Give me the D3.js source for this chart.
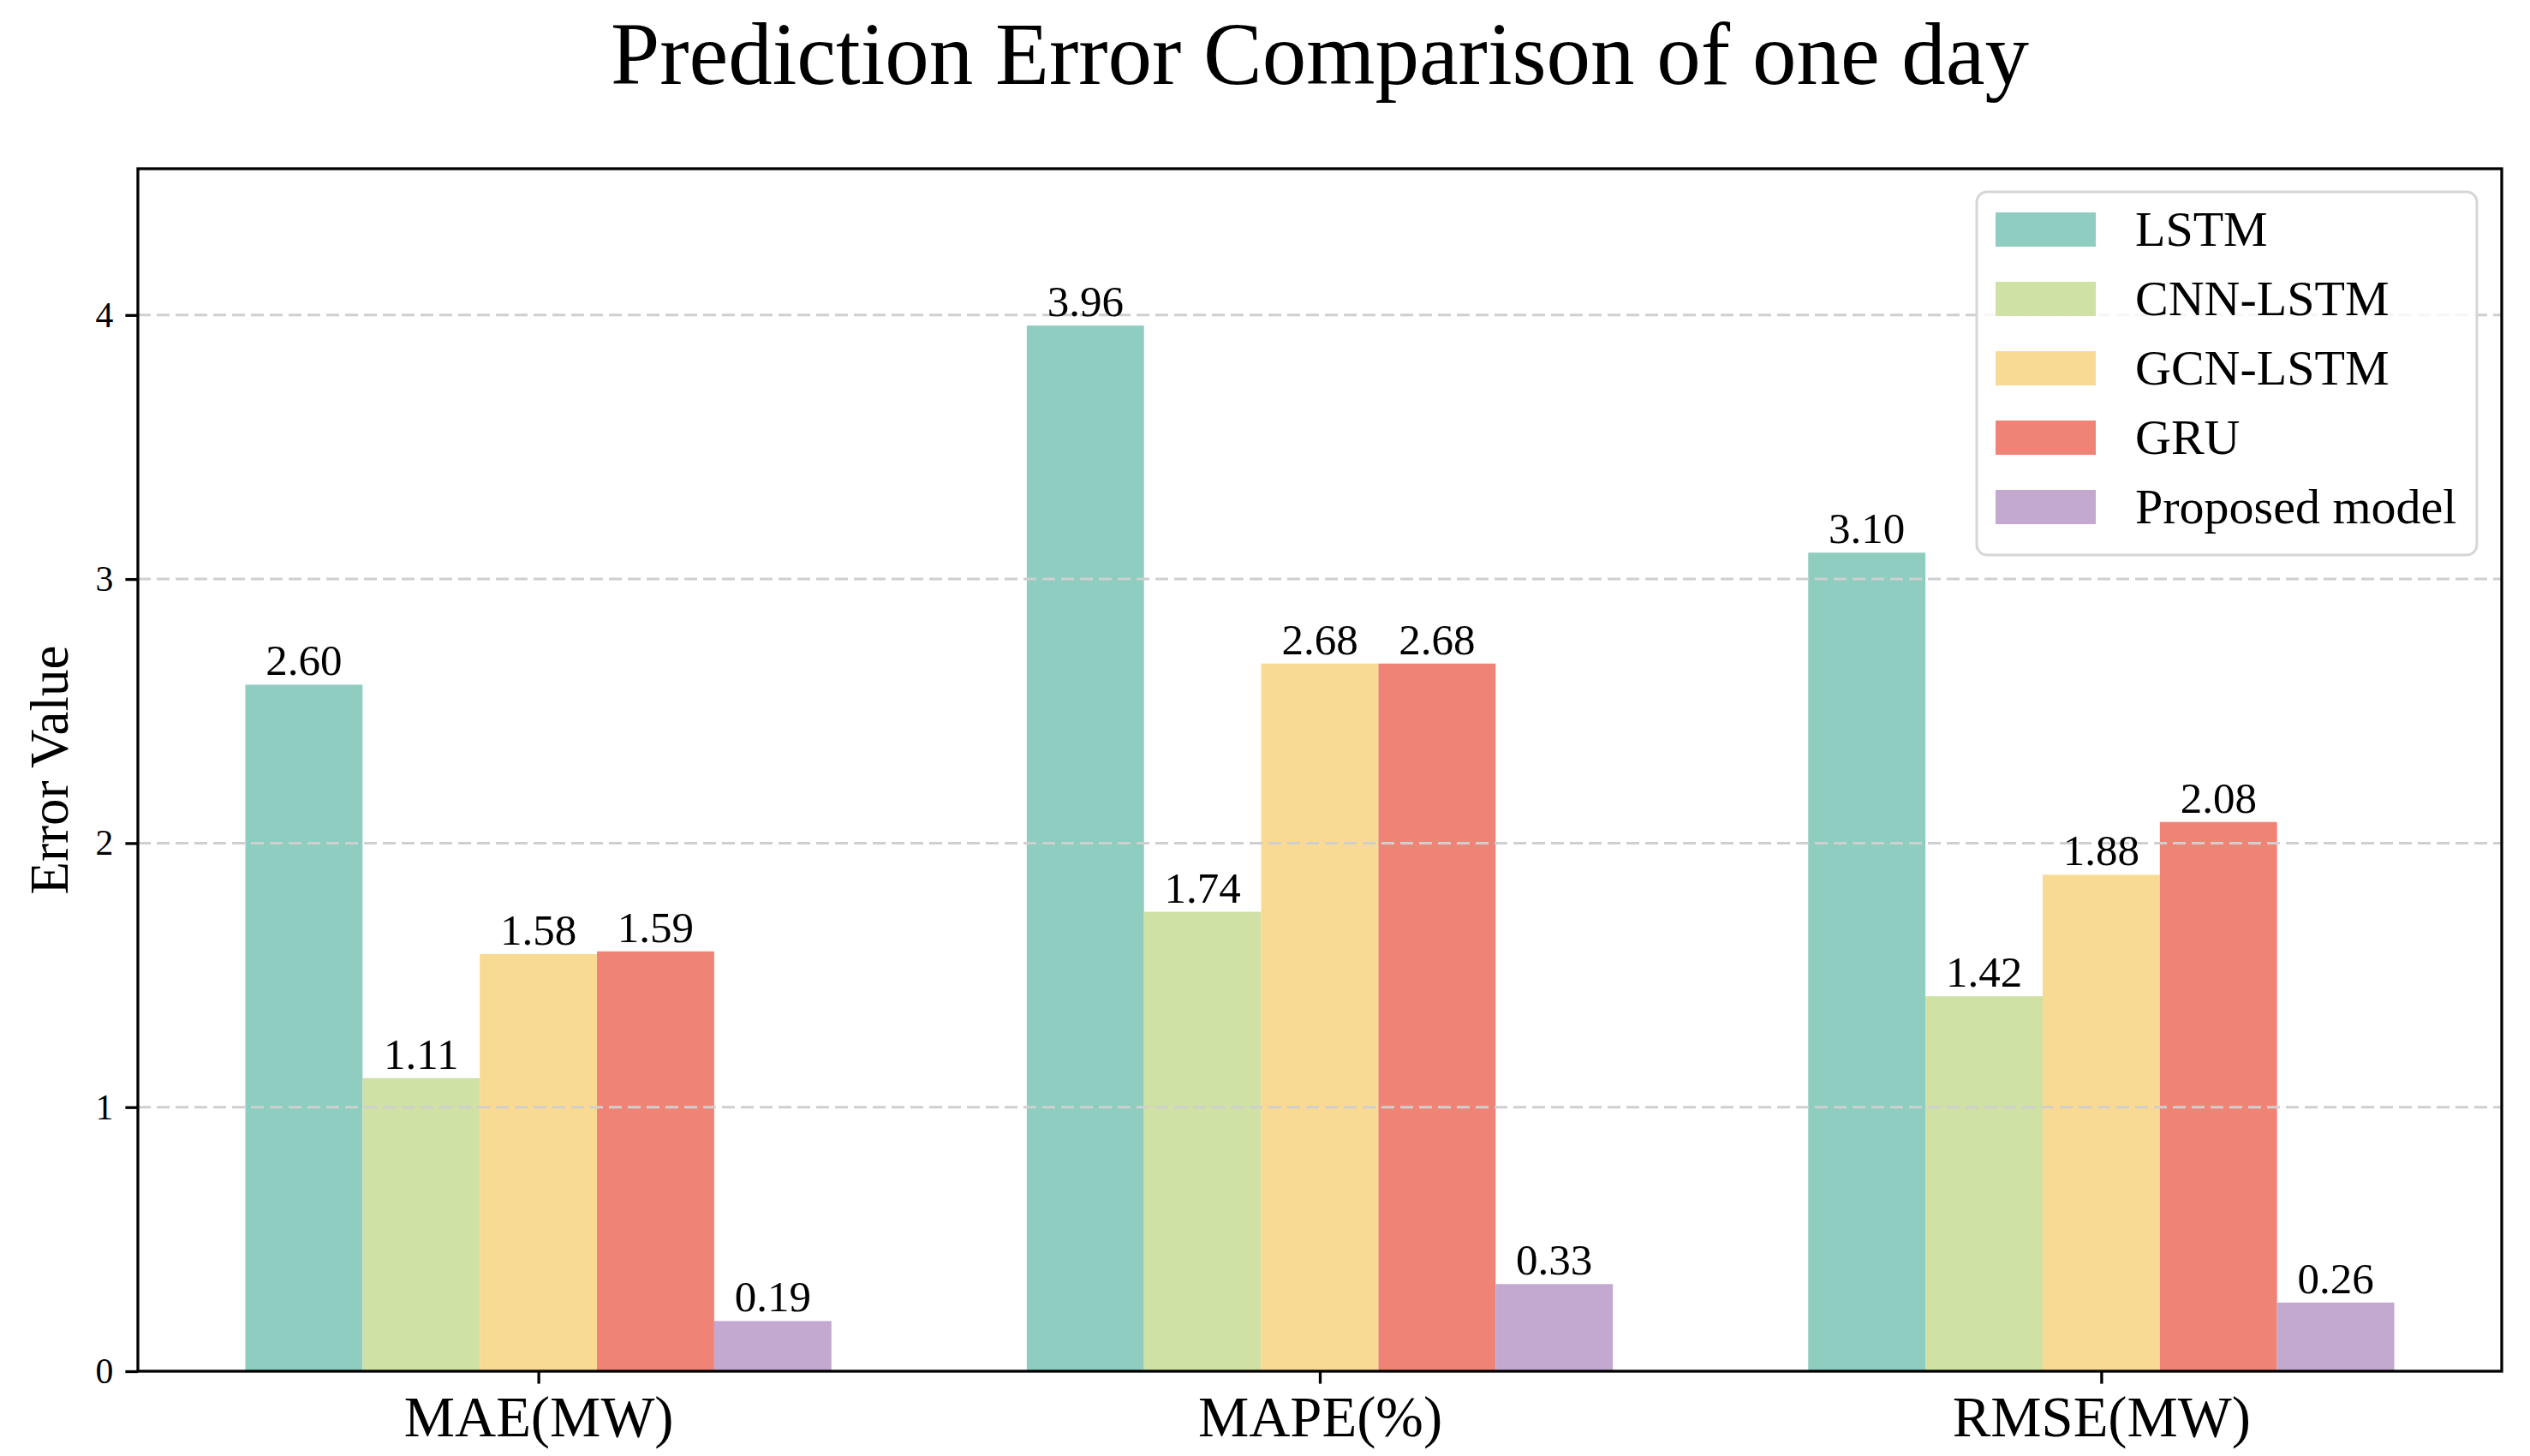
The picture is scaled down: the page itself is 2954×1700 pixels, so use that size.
<!DOCTYPE html>
<html>
<head>
<meta charset="utf-8">
<script src="https://cdn.jsdelivr.net/npm/d3@7"></script>
<style>
  body { margin: 0; background: #fff; }
  svg { display: block; font-family: "Liberation Serif", "Times New Roman", serif; }
</style>
</head>
<body>
<div id="chart-area"></div>
<script>
// data
const metrics = ["MAE(MW)", "MAPE(%)", "RMSE(MW)"]
const models = ["LSTM", "CNN-LSTM", "GCN-LSTM", "GRU", "Proposed model"]
const lstm = [2.60, 3.96, 3.10]
const cnnLstm = [1.11, 1.74, 1.42]
const gcnLstm = [1.58, 2.68, 1.88]
const gru = [1.59, 2.68, 2.08]
const proposed = [0.19, 0.33, 0.26]
const yTicks = [0, 1, 2, 3, 4]
const colors = ["#8ecdc0", "#cfe1a5", "#f8da93", "#ef8476", "#c3a8cf"]

const series = [lstm, cnnLstm, gcnLstm, gru, proposed]

const W = 2954, H = 1700
const PLOT = { LEFT: 161, TOP: 197, RIGHT: 2921, BOTTOM: 1601 }
const BAR_W = 0.15
const TICK = 14.6

const svg = d3.select("#chart-area").append("svg")
  .attr("width", W)
  .attr("height", H)

svg.append("rect")
  .attr("width", W)
  .attr("height", H)
  .attr("fill", "#fff")

// matplotlib style limits: 5% margin on x, 1.15 * max on y
const x = d3.scaleLinear()
  .domain([-0.5125, 2.5125])
  .range([PLOT.LEFT, PLOT.RIGHT])

const y = d3.scaleLinear()
  .domain([0, d3.max(series.flat()) * 1.15])
  .range([PLOT.BOTTOM, PLOT.TOP])

// bars
const bars = []
series.forEach((vals, j) => {
  vals.forEach((v, i) => {
    bars.push({ i, j, v, cx: i + (j - 2) * BAR_W })
  })
})

svg.append("g").selectAll("rect")
  .data(bars)
  .enter().append("rect")
  .attr("x", d => x(d.cx - BAR_W / 2))
  .attr("y", d => y(d.v))
  .attr("width", x(BAR_W) - x(0))
  .attr("height", d => y(0) - y(d.v))
  .attr("fill", d => colors[d.j])

// grid (drawn above bars like the original)
svg.append("g").selectAll("line")
  .data(yTicks.filter(t => t > 0))
  .enter().append("line")
  .attr("x1", PLOT.LEFT)
  .attr("x2", PLOT.RIGHT)
  .attr("y1", d => y(d))
  .attr("y2", d => y(d))
  .attr("stroke", "#cfcfcf")
  .attr("stroke-width", 3)
  .attr("stroke-dasharray", "15,7")

// value labels
svg.append("g").selectAll("text")
  .data(bars)
  .enter().append("text")
  .attr("x", d => x(d.cx))
  .attr("y", d => y(d.v) - 11)
  .attr("text-anchor", "middle")
  .attr("font-size", "51px")
  .attr("fill", "#000")
  .text(d => d.v.toFixed(2))

// axes
const xAxisCall = d3.axisBottom(x)
  .tickValues([0, 1, 2])
  .tickFormat(i => metrics[i])
  .tickSize(TICK)
  .tickPadding(14)

const xAxisGroup = svg.append("g")
  .attr("transform", `translate(0, ${PLOT.BOTTOM})`)
  .call(xAxisCall)
xAxisGroup.select(".domain").remove()
xAxisGroup.selectAll("line").attr("stroke", "#000").attr("stroke-width", 3.3)
xAxisGroup.selectAll("text")
  .attr("font-family", "Liberation Serif, serif")
  .attr("font-size", "66.7px")
  .attr("fill", "#000")

const yAxisCall = d3.axisLeft(y)
  .tickValues(yTicks)
  .tickFormat(d3.format("d"))
  .tickSize(TICK)
  .tickPadding(14)

const yAxisGroup = svg.append("g")
  .attr("transform", `translate(${PLOT.LEFT}, 0)`)
  .call(yAxisCall)
yAxisGroup.select(".domain").remove()
yAxisGroup.selectAll("line").attr("stroke", "#000").attr("stroke-width", 3.3)
yAxisGroup.selectAll("text")
  .attr("font-family", "Liberation Serif, serif")
  .attr("font-size", "41.7px")
  .attr("fill", "#000")

// spines
svg.append("rect")
  .attr("x", PLOT.LEFT)
  .attr("y", PLOT.TOP)
  .attr("width", PLOT.RIGHT - PLOT.LEFT)
  .attr("height", PLOT.BOTTOM - PLOT.TOP)
  .attr("fill", "none")
  .attr("stroke", "#000")
  .attr("stroke-width", 3.3)

// Y label
svg.append("text")
  .attr("transform", `translate(79, ${(PLOT.TOP + PLOT.BOTTOM) / 2}) rotate(-90)`)
  .attr("text-anchor", "middle")
  .attr("font-size", "63px")
  .text("Error Value")

// title
svg.append("text")
  .attr("x", (PLOT.LEFT + PLOT.RIGHT) / 2)
  .attr("y", 98)
  .attr("text-anchor", "middle")
  .attr("font-size", "103px")
  .text("Prediction Error Comparison of one day")

// legend
const LEG = { RIGHT: 2892, TOP: 224, W: 584, H: 424, ROW: 81, FONT: 58 }
const legend = svg.append("g")
  .attr("transform", `translate(${LEG.RIGHT - LEG.W}, ${LEG.TOP})`)

legend.append("rect")
  .attr("width", LEG.W)
  .attr("height", LEG.H)
  .attr("rx", 12)
  .attr("fill", "#fff")
  .attr("fill-opacity", 0.8)
  .attr("stroke", "#d6d6d6")
  .attr("stroke-width", 3)

const items = legend.selectAll("g.item")
  .data(models)
  .enter().append("g")
  .attr("class", "item")
  .attr("transform", (d, k) => `translate(0, ${44 + k * LEG.ROW})`)

items.append("rect")
  .attr("x", 22)
  .attr("y", -20)
  .attr("width", 117)
  .attr("height", 40)
  .attr("fill", (d, k) => colors[k])

items.append("text")
  .attr("x", 185)
  .attr("y", 19)
  .attr("font-size", LEG.FONT + "px")
  .text(d => d)
</script>
</body>
</html>
